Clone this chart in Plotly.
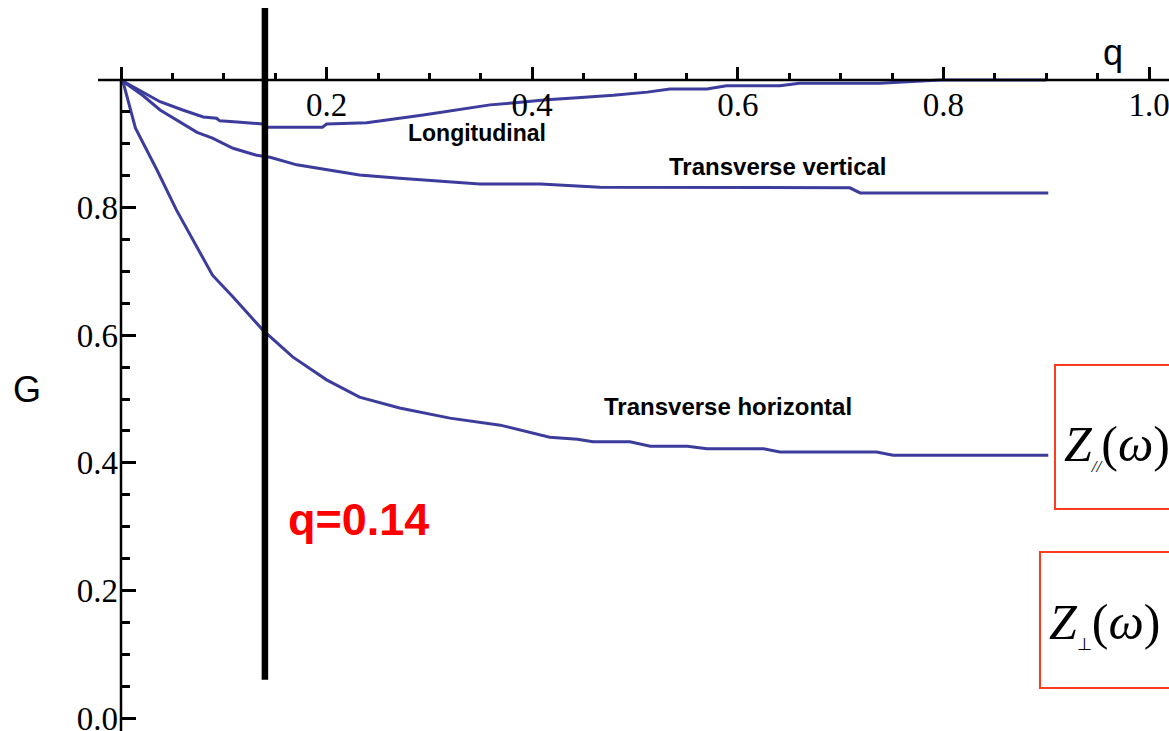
import plotly.graph_objects as go

# ---------------- data ----------------
q_long = [0, 0.021, 0.038, 0.060, 0.080, 0.093, 0.096, 0.113, 0.138, 0.140, 0.175, 0.196, 0.200,
          0.239, 0.294, 0.359, 0.381, 0.414, 0.444, 0.479, 0.512, 0.534, 0.570, 0.589, 0.641,
          0.660, 0.738, 0.797, 0.900]
g_long = [1.0, 0.981, 0.966, 0.953, 0.942, 0.940, 0.936, 0.934, 0.931, 0.926, 0.926, 0.926, 0.931,
          0.933, 0.945, 0.961, 0.964, 0.969, 0.972, 0.976, 0.981, 0.986, 0.986, 0.991, 0.991,
          0.995, 0.995, 1.0, 1.0]

q_tv = [0, 0.021, 0.038, 0.054, 0.074, 0.089, 0.109, 0.132, 0.145, 0.171, 0.232, 0.271, 0.310,
        0.349, 0.408, 0.466, 0.709, 0.719, 0.902]
g_tv = [1.0, 0.976, 0.953, 0.937, 0.918, 0.909, 0.893, 0.882, 0.879, 0.867, 0.851, 0.846, 0.842,
        0.837, 0.837, 0.832, 0.831, 0.823, 0.823]

q_th = [0, 0.002, 0.014, 0.035, 0.054, 0.074, 0.089, 0.109, 0.138, 0.167, 0.200, 0.232, 0.271,
        0.320, 0.369, 0.417, 0.444, 0.459, 0.495, 0.515, 0.551, 0.570, 0.625, 0.641, 0.735,
        0.751, 0.902]
g_th = [1.0, 0.997, 0.925, 0.859, 0.796, 0.738, 0.694, 0.660, 0.608, 0.566, 0.530, 0.503, 0.486,
        0.470, 0.459, 0.440, 0.437, 0.433, 0.433, 0.426, 0.426, 0.422, 0.422, 0.417, 0.417,
        0.412, 0.412]

q_mark = [0.14, 0.14]
g_mark = [0.06, 1.113]

x_tickvals = [0, 0.2, 0.4, 0.6, 0.8, 1.0]
x_ticktext = ["", "0.2", "0.4", "0.6", "0.8", "1.0"]
x_minor = [0.05, 0.1, 0.15, 0.25, 0.3, 0.35, 0.45, 0.5, 0.55, 0.65, 0.7, 0.75, 0.85, 0.9, 0.95]
y_tickvals = [0, 0.2, 0.4, 0.6, 0.8]
y_ticktext = ["0.0", "0.2", "0.4", "0.6", "0.8"]
y_minor = [0.05, 0.1, 0.15, 0.25, 0.3, 0.35, 0.45, 0.5, 0.55, 0.65, 0.7, 0.75, 0.85, 0.9, 0.95]

W, H = 1169, 731
CURVE = "#3c3c9c"
RED_BOX = "#ff3a1a"

fig = go.Figure()
for qs, gs in [(q_long, g_long), (q_tv, g_tv), (q_th, g_th)]:
    fig.add_trace(go.Scatter(x=qs, y=gs, mode="lines",
                             line=dict(color=CURVE, width=3), showlegend=False,
                             hoverinfo="skip"))
fig.add_trace(go.Scatter(x=q_mark, y=g_mark, mode="lines",
                         line=dict(color="black", width=6.5), showlegend=False,
                         hoverinfo="skip"))

xr = [-121 / 1028, (W - 121) / 1028]
yr = [1 - (H - 80) / 638, 1 + 80 / 638]

tickfont = dict(family="Liberation Serif, Times New Roman, serif", size=33, color="black")

fig.update_layout(
    width=W, height=H,
    margin=dict(l=0, r=0, t=0, b=0, autoexpand=False),
    paper_bgcolor="white", plot_bgcolor="white",
    xaxis=dict(domain=[0, 1], range=xr, anchor="free", position=(H - 80) / H, side="bottom",
               automargin=False,
               showline=False, showgrid=False, zeroline=False,
               ticks="inside", ticklen=13, tickwidth=2.5, tickcolor="black",
               tickmode="array", tickvals=x_tickvals, ticktext=x_ticktext,
               tickfont=tickfont, ticklabelstandoff=2, ticklabeloverflow="allow",
               minor=dict(tickmode="array", tickvals=x_minor, ticks="inside", ticklen=7,
                          tickwidth=2.5, tickcolor="black", showgrid=False)),
    yaxis=dict(domain=[0, 1], range=yr, anchor="free", position=121 / W, side="left",
               automargin=False,
               showline=False, showgrid=False, zeroline=False,
               ticks="inside", ticklen=14, tickwidth=2.5, tickcolor="black",
               tickmode="array", tickvals=y_tickvals, ticktext=y_ticktext,
               tickfont=tickfont, ticklabelstandoff=3, ticklabeloverflow="allow",
               minor=dict(tickmode="array", tickvals=y_minor, ticks="inside", ticklen=8,
                          tickwidth=2.5, tickcolor="black", showgrid=False)),
)

# axis lines
fig.add_shape(type="line", xref="x", yref="y", x0=-23 / 1028, x1=xr[1], y0=1, y1=1,
              line=dict(color="black", width=2.5), layer="above")
fig.add_shape(type="line", xref="x", yref="y", x0=0, x1=0, y0=yr[0], y1=1,
              line=dict(color="black", width=2.5), layer="above")

# red boxes
fig.add_shape(type="rect", xref="paper", yref="paper", x0=1055 / W, x1=1.01,
              y0=1 - 509 / H, y1=1 - 365 / H, line=dict(color=RED_BOX, width=2))
fig.add_shape(type="rect", xref="paper", yref="paper", x0=1040 / W, x1=1.01,
              y0=1 - 688 / H, y1=1 - 552 / H, line=dict(color=RED_BOX, width=2))


def ann(text, px, py, size, family="Liberation Sans, Arial, sans-serif", color="black",
        xanchor="center"):
    fig.add_annotation(text=text, x=px / W, y=1 - py / H, xref="paper", yref="paper",
                       showarrow=False, xanchor=xanchor, yanchor="middle",
                       font=dict(family=family, size=size, color=color))


ann("<b>Longitudinal</b>", 477, 133, 23)
ann("<b>Transverse vertical</b>", 778, 166, 24)
ann("<b>Transverse horizontal</b>", 728, 407, 24)
ann("<b>q=0.14</b>", 358, 519, 45, color="#ff0000")
ann("G", 27, 389, 36)
ann("q", 1113, 53, 36)

serif = "Liberation Serif, Times New Roman, serif"
ann("<i>Z</i><sub><span style='font-size:17px'><i>//</i></span></sub>(<i>ω</i>)",
    1062, 446, 50, family=serif, xanchor="left")
ann("<i>Z</i><sub><span style='font-size:17px'>⊥</span></sub>(<i>ω</i>)",
    1047, 624, 50, family=serif, xanchor="left")

fig.write_html("out.html")
